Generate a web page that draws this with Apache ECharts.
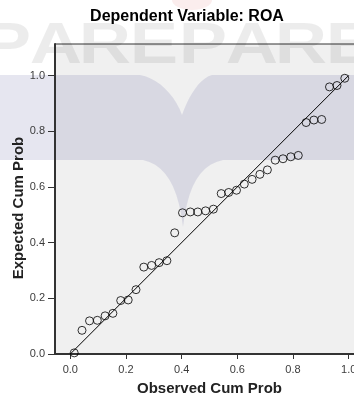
<!doctype html>
<html>
<head>
<meta charset="utf-8">
<title>Normal P-P Plot ROA</title>
<script src="https://cdn.jsdelivr.net/npm/echarts@6/dist/echarts.min.js"></script>
<style>
  html, body { margin: 0; padding: 0; background: #fff; }
  #main { width: 354px; height: 397px; }
</style>
</head>
<body>
<div id="main"></div>
<script type="text/javascript">
// observed cumulative probability (x) and expected cumulative probability (y)
var observed = [0.014, 0.042, 0.069, 0.097, 0.125, 0.153, 0.181, 0.208, 0.236, 0.264, 0.292, 0.319,
                0.347, 0.375, 0.403, 0.431, 0.458, 0.486, 0.514, 0.542, 0.569, 0.597, 0.625, 0.653,
                0.681, 0.708, 0.736, 0.764, 0.792, 0.819, 0.847, 0.875, 0.903, 0.931, 0.958, 0.986];
var expected = [0.004, 0.085, 0.119, 0.121, 0.137, 0.146, 0.192, 0.194, 0.231, 0.312, 0.318, 0.328,
                0.335, 0.435, 0.507, 0.510, 0.510, 0.514, 0.520, 0.576, 0.580, 0.588, 0.610, 0.627,
                0.645, 0.661, 0.696, 0.701, 0.708, 0.713, 0.831, 0.840, 0.842, 0.959, 0.964, 0.990];
// diagonal reference line
var refX = [0, 1];
var refY = [0, 1];
var xTicks = [0, 0.2, 0.4, 0.6, 0.8, 1.0];
var yTicks = [0, 0.2, 0.4, 0.6, 0.8, 1.0];
var titleText = 'Dependent Variable: ROA';
var xName = 'Observed Cum Prob';
var yName = 'Expected Cum Prob';
var watermark = 'PAREPARE';

var font = "'Liberation Sans', Arial, sans-serif";

var points = [];
for (var i = 0; i < observed.length; i++) points.push([observed[i], expected[i]]);
var diag = [];
for (var j = 0; j < refX.length; j++) diag.push([refX[j], refY[j]]);

// sample a cubic bezier for the watermark outline
function bez(p0, p1, p2, p3, out) {
  for (var t = 0.1; t <= 1.0001; t += 0.1) {
    var u = 1 - t;
    out.push([
      u*u*u*p0[0] + 3*u*u*t*p1[0] + 3*u*t*t*p2[0] + t*t*t*p3[0],
      u*u*u*p0[1] + 3*u*u*t*p1[1] + 3*u*t*t*p2[1] + t*t*t*p3[1]
    ]);
  }
}
var band = [[0, 75], [140, 75]];
bez([140, 75], [158, 78], [175, 95], [182, 115], band);
bez([182, 115], [189, 95], [200, 78], [212, 75], band);
band.push([354, 75], [354, 160], [223, 160]);
bez([223, 160], [200, 165], [188, 185], [183, 227], band);
bez([183, 227], [178, 185], [165, 165], [143, 160], band);
band.push([0, 160]);

// background watermark (letters + band), purely decorative
var marks = [];
for (var k = 0; k < watermark.length; k++) {
  marks.push({
    type: 'text', z: 1, silent: true,
    x: 7 + 49 * k, y: 47, scaleX: 1.25,
    style: { text: watermark[k], fill: 'rgba(0,0,0,0.075)', font: 'bold 58px ' + font,
             align: 'center', verticalAlign: 'middle' }
  });
}
marks.push({
  type: 'polygon', z: 1, silent: true,
  shape: { points: band },
  style: { fill: 'rgba(50,50,130,0.12)' }
});
marks.push({
  type: 'circle', z: 1, silent: true,
  x: 192, y: 0, scaleY: 0.5,
  shape: { cx: 0, cy: 0, r: 20 },
  style: { fill: 'rgba(225,110,110,0.12)' }
});

var myChart = echarts.init(document.getElementById('main'));

var option = {
  animation: false,
  backgroundColor: '#fff',
  title: {
    text: titleText,
    left: 182,
    top: 4,
    textAlign: 'center',
    textStyle: { fontFamily: font, fontWeight: 'bold', fontSize: 16, color: '#000' }
  },
  graphic: marks,
  grid: {
    left: 55, right: -10, top: 44, bottom: 43,
    containLabel: false,
    outerBoundsMode: 'none',
    show: true,
    backgroundColor: '#f0f0f0',
    borderColor: '#333',
    borderWidth: 1
  },
  xAxis: {
    type: 'value',
    min: -0.055, max: 1.055,
    z: 3,
    name: xName,
    nameLocation: 'middle',
    nameGap: 27,
    nameMoveOverlap: false,
    nameTextStyle: { fontFamily: font, fontWeight: 'bold', fontSize: 15, color: '#222' },
    axisLine: { onZero: false, lineStyle: { color: '#333', width: 2 } },
    axisTick: { show: true, customValues: xTicks, length: 5, lineStyle: { color: '#333', width: 1 } },
    axisLabel: {
      customValues: xTicks, margin: 10,
      fontFamily: font, fontSize: 11, color: '#3c3c3c',
      formatter: function (v) { return v.toFixed(1); }
    },
    splitLine: { show: false }
  },
  yAxis: {
    type: 'value',
    min: 0, max: 1.113,
    z: 3,
    name: yName,
    nameLocation: 'middle',
    nameGap: 29,
    nameMoveOverlap: false,
    nameTextStyle: { fontFamily: font, fontWeight: 'bold', fontSize: 15, color: '#222', padding: [0, 18, 0, 0] },
    axisLine: { onZero: false, lineStyle: { color: '#333', width: 2 } },
    axisTick: { show: true, customValues: yTicks, length: 7, lineStyle: { color: '#333', width: 1 } },
    axisLabel: {
      customValues: yTicks, margin: 10,
      fontFamily: font, fontSize: 11, color: '#3c3c3c',
      formatter: function (v) { return v.toFixed(1); }
    },
    splitLine: { show: false }
  },
  series: [
    {
      type: 'line',
      data: diag,
      symbol: 'none',
      z: 3,
      lineStyle: { color: '#000', width: 1 }
    },
    {
      type: 'scatter',
      data: points,
      symbol: 'circle',
      symbolSize: 8,
      z: 4,
      itemStyle: { color: 'rgba(0,0,0,0)', borderColor: '#000', borderWidth: 1 }
    }
  ]
};

myChart.setOption(option);
</script>
</body>
</html>
